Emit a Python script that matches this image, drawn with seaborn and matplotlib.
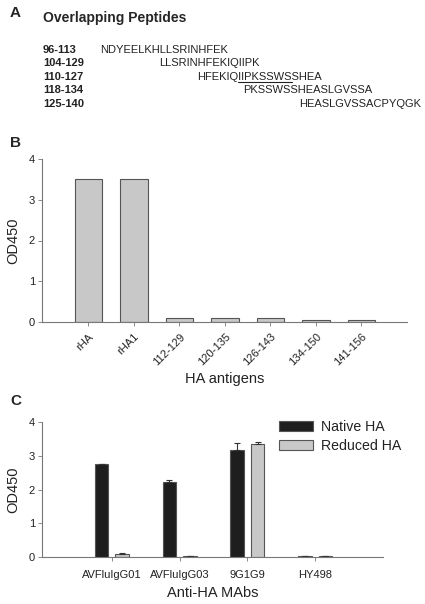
import matplotlib
matplotlib.use("Agg")
import matplotlib.pyplot as plt
import seaborn as sns
import pandas as pd

# panel A data
pep_ranges = ["96-113", "104-129", "110-127", "118-134", "125-140"]
pep_seqs = ["NDYEELKHLLSRINHFEK", "LLSRINHFEKIQIIPK", "HFEKIQIIPKSSWSSHEA",
            "PKSSWSSHEASLGVSSA", "HEASLGVSSACPYQGK"]
pep_x = [100, 159, 197, 243, 299]  # text start in px
underline_row = 2
underline_span = (6, 14)  # IIPKSSWS

# panel B data
antigens = ["rHA", "rHA1", "112-129", "120-135", "126-143", "134-150", "141-156"]
od_b = [3.50, 3.50, 0.09, 0.11, 0.09, 0.05, 0.06]

# panel C data
mabs = ["AVFluIgG01", "AVFluIgG03", "9G1G9", "HY498"]
native = [2.75, 2.22, 3.17, 0.02]
native_err = [0.02, 0.06, 0.20, 0.01]
reduced = [0.09, 0.03, 3.35, 0.02]
reduced_err = [0.02, 0.01, 0.07, 0.01]
conds = ["Native HA", "Reduced HA"]

sns.set_theme(style="ticks")
plt.rcParams["font.family"] = ["Liberation Sans", "DejaVu Sans"]

W, H = 425, 604
fig = plt.figure(figsize=(W / 100, H / 100), dpi=100)


def fx(px):
    return px / W


def fy(py):
    return 1 - py / H


txt_c = "#222222"

# ---- panel A
fig.text(fx(10), fy(13), "A", fontsize=11, fontweight="bold", va="center")
fig.text(fx(43), fy(18), "Overlapping Peptides", fontsize=10, fontweight="bold", va="center")
rows_y = [50, 63, 77, 90, 104]
fig.canvas.draw()
rend = fig.canvas.get_renderer()
for i, (r, s) in enumerate(zip(pep_ranges, pep_seqs)):
    fig.text(fx(43), fy(rows_y[i]), r, fontsize=8, fontweight="bold", va="center", color=txt_c)
    fig.text(fx(pep_x[i]), fy(rows_y[i]), s, fontsize=8, va="center", color=txt_c)
    if i == underline_row:
        a, b = underline_span
        pre = fig.text(0.5, 0.5, s[:a], fontsize=8)
        mid = fig.text(0.5, 0.5, s[:b], fontsize=8)
        w0 = pre.get_window_extent(rend).width
        w1 = mid.get_window_extent(rend).width
        pre.remove()
        mid.remove()
        uy = fy(rows_y[i] + 5)
        fig.add_artist(plt.Line2D([fx(pep_x[i] + w0), fx(pep_x[i] + w1)], [uy, uy],
                                  transform=fig.transFigure, color=txt_c, lw=0.8))

gray = "#c8c8c8"
edge = "#555555"
spine_c = "#777777"


def style_ax(ax, xpad):
    sns.despine(ax=ax)
    for sp in ["left", "bottom"]:
        ax.spines[sp].set_color(spine_c)
        ax.spines[sp].set_linewidth(0.8)
    ax.tick_params(axis="both", length=3, width=0.6, color=spine_c, labelsize=8,
                   labelcolor=txt_c, pad=2)
    ax.tick_params(axis="x", pad=xpad)
    ax.set_ylim(0, 4)
    ax.set_yticks([0, 1, 2, 3, 4])


# ---- panel B
fig.text(fx(10), fy(143), "B", fontsize=11, fontweight="bold", va="center")
axb = fig.add_axes([fx(42), fy(322), fx(407) - fx(42), fy(159) - fy(322)])
dfb = pd.DataFrame({"antigen": antigens, "od": od_b})
sns.barplot(data=dfb, x="antigen", y="od", ax=axb, color=gray, width=0.6,
            edgecolor=edge, linewidth=0.8, errorbar=None, saturation=1)
axb.set_xlim(-1.02, 7.0)
style_ax(axb, 4)
axb.set_xticks(range(len(antigens)))
axb.set_xticklabels(antigens, rotation=45, ha="right", rotation_mode="anchor")
axb.set_xlabel("HA antigens", fontsize=10.5, color=txt_c, labelpad=3)
axb.set_ylabel("OD450", fontsize=10.5, color=txt_c, labelpad=6)

# ---- panel C
fig.text(fx(10), fy(401), "C", fontsize=11, fontweight="bold", va="center")
axc = fig.add_axes([fx(42), fy(557), fx(383) - fx(42), fy(422) - fy(557)])
dfc = pd.DataFrame({
    "mab": mabs * 2,
    "cond": [conds[0]] * len(mabs) + [conds[1]] * len(mabs),
    "od": native + reduced,
})
sns.barplot(data=dfc, x="mab", y="od", hue="cond", ax=axc,
            palette=["#1e1e1e", gray], width=0.6, gap=0.33,
            edgecolor=edge, linewidth=0.8, errorbar=None, saturation=1)
errs = native_err + reduced_err
bars = axc.patches[:len(errs)]
for p, e in zip(bars, errs):
    cx = p.get_x() + p.get_width() / 2
    axc.errorbar(cx, p.get_height(), yerr=[[0], [e]], fmt="none",
                 ecolor="#333333", elinewidth=0.8, capsize=2.5, capthick=0.8)
axc.set_xlim(-1.03, 4.0)
style_ax(axc, 6)
axc.set_xlabel("Anti-HA MAbs", fontsize=10.5, color=txt_c, labelpad=5)
axc.set_ylabel("OD450", fontsize=10.5, color=txt_c, labelpad=6)
leg = axc.legend(loc="upper left", bbox_to_anchor=(fx(279), fy(420)),
                 bbox_transform=fig.transFigure, frameon=False, fontsize=10.2,
                 handlelength=2.4, handleheight=0.65, handletextpad=0.55,
                 labelspacing=0.35, borderaxespad=0, borderpad=0)
for t in leg.get_texts():
    t.set_color(txt_c)

fig.savefig("out.png", dpi=100)
